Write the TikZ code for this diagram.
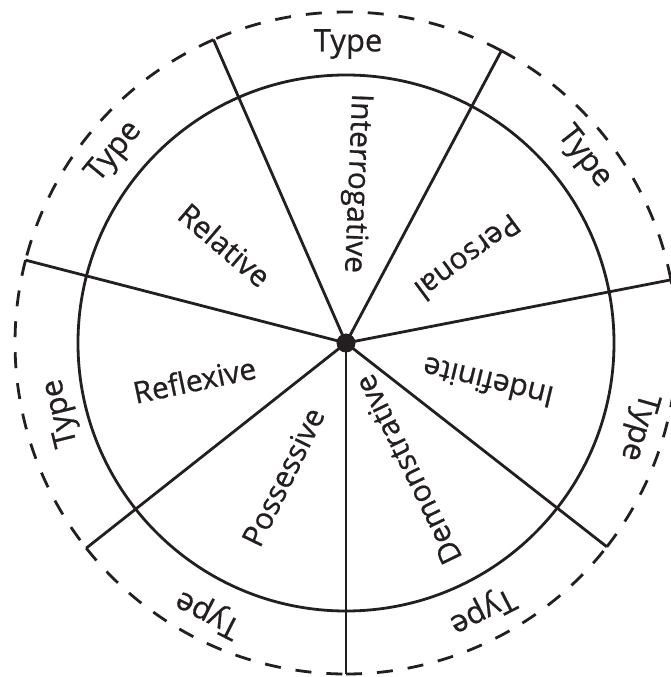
\documentclass[tikz,border=0pt]{standalone}
\usepackage{fontspec}
\setmainfont{Open Sans}
\newfontfamily\wheelfont{Open Sans}[FakeBold=0.7]
\usetikzlibrary{positioning}
\definecolor{inkBlack}{HTML}{231F20}

\begin{document}
\begin{tikzpicture}[x=1pt,y=1pt,spoke/.style={draw=inkBlack,line width=2.8pt},rim/.style={draw=inkBlack,line width=2.8pt,dash pattern=on 16pt off 15pt},dot/.style={circle,fill=inkBlack,inner sep=0pt,minimum size=19pt},wedge/.style={inner sep=0pt,font=\wheelfont\fontsize{30}{36}\selectfont,text=inkBlack},ring/.style={inner sep=0pt,font=\wheelfont\fontsize{31}{37}\selectfont,text=inkBlack}]
\useasboundingbox (-346,-334) rectangle (325,343);
\coordinate (o) at (0,0);
\coordinate (e1) at (270:331);
\coordinate (e2) at (322:331);
\coordinate (e3) at (11:331);
\coordinate (e4) at (62:331);
\coordinate (e5) at (113.6:331);
\coordinate (e6) at (165.5:331);
\coordinate (e7) at (218.3:331);
\draw[spoke] (o) circle[radius=268];
\draw[spoke] (o) -- (e1);
\draw[spoke] (o) -- (e2);
\draw[spoke] (o) -- (e3);
\draw[spoke] (o) -- (e4);
\draw[spoke] (o) -- (e5);
\draw[spoke] (o) -- (e6);
\draw[spoke] (o) -- (e7);
\draw[rim] (e1) arc[start angle=270,end angle=322,radius=331];
\draw[rim] (e2) arc[start angle=322,end angle=371,radius=331];
\draw[rim] (e3) arc[start angle=11,end angle=62,radius=331];
\draw[rim] (e4) arc[start angle=62,end angle=113.6,radius=331];
\draw[rim] (e5) arc[start angle=113.6,end angle=165.5,radius=331];
\draw[rim] (e6) arc[start angle=165.5,end angle=218.3,radius=331];
\draw[rim] (e7) arc[start angle=218.3,end angle=270,radius=331];
\node[dot] (hub) at (o) {};
\node[wedge,rotate=-92.3] (interrogative) at (86.4:160) {Interrogative};
\node[wedge,rotate=216.5] (personal) at (35:149) {Personal};
\node[wedge,rotate=166.5] (indefinite) at (344.3:147.5) {Indefinite};
\node[wedge,rotate=116] (demonstrative) at (296:141) {Demonstrative};
\node[wedge,rotate=64] (possessive) at (244.8:148) {Possessive};
\node[wedge,rotate=11.9] (reflexive) at (193.7:156) {Reflexive};
\node[wedge,rotate=-40.5] (relative) at (141:156) {Relative};
\node[ring,rotate=0] (t1) at (89.6:299) {Type};
\node[ring,rotate=50.5] (t2) at (140.5:300) {Type};
\node[ring,rotate=103.8] (t3) at (193.8:293) {Type};
\node[ring,rotate=153] (t4) at (243:303) {Type};
\node[ring,rotate=207] (t5) at (297:300) {Type};
\node[ring,rotate=254] (t6) at (344:304) {Type};
\node[ring,rotate=-52] (t7) at (38:302) {Type};
\end{tikzpicture}
\end{document}
